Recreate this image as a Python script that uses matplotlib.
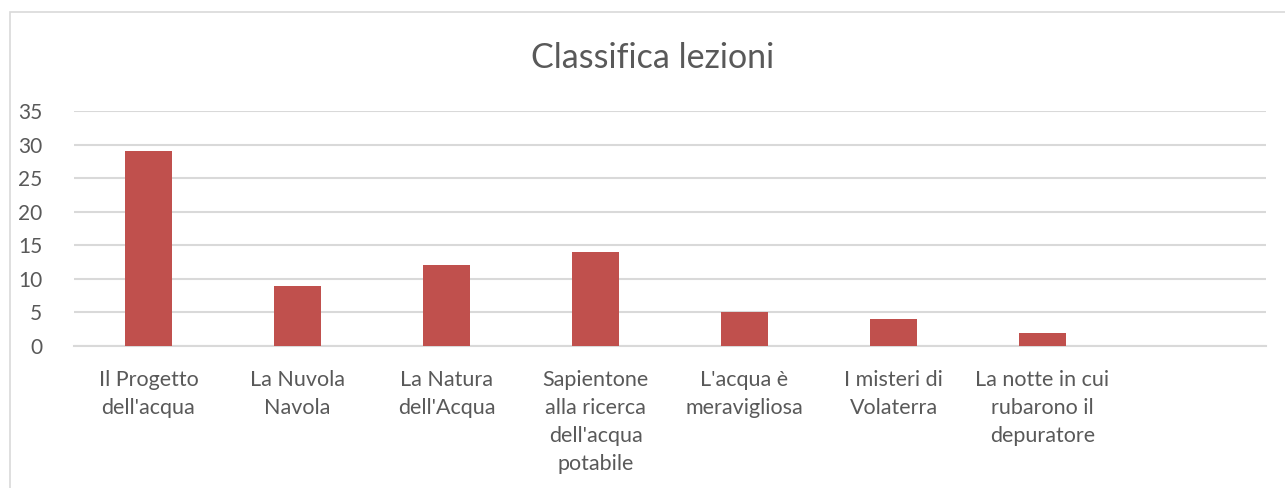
import matplotlib
matplotlib.use("Agg")
import matplotlib.pyplot as plt
from matplotlib.patches import Rectangle

# ===== dati =====
categorie = [
    "Il Progetto\ndell'acqua",
    "La Nuvola\nNavola",
    "La Natura\ndell'Acqua",
    "Sapientone\nalla ricerca\ndell'acqua\npotabile",
    "L'acqua è\nmeravigliosa",
    "I misteri di\nVolaterra",
    "La notte in cui\nrubarono il\ndepuratore",
    "",
]
voti = [29, 9, 12, 14, 5, 4, 2, 0]
y_ticks = [0, 5, 10, 15, 20, 25, 30, 35]

plt.rcParams['font.family'] = ['Lato', 'DejaVu Sans']
testo = "#595959"
griglia = "#D9D9D9"

fig = plt.figure(figsize=(12.85, 4.88), dpi=100)
# bordo del grafico
fig.patches.append(Rectangle((10 / 1285, -0.1), 1.2, 1.1 - 12 / 488,
                             transform=fig.transFigure, fill=False,
                             edgecolor=griglia, linewidth=1.2))

ax = fig.add_axes([74 / 1285, 1 - 346 / 488, (1266 - 74) / 1285, (346 - 111) / 488])
x = range(len(categorie))
ax.bar(x, voti, width=0.315, color="#C0504D", zorder=3)

ax.set_xlim(-0.5, len(categorie) - 0.5)
ax.set_ylim(0, 35)
ax.set_yticks(y_ticks)
ax.set_yticklabels([str(v) for v in y_ticks], color=testo, fontsize=15)
ax.set_xticks(list(x))
ax.set_xticklabels(categorie, color=testo, fontsize=15.5, linespacing=1.5, va="top")
ax.tick_params(length=0)
ax.tick_params(axis="x", pad=17)
ax.tick_params(axis="y", pad=23)
for lbl in ax.get_yticklabels():
    lbl.set_horizontalalignment("right")

ax.grid(axis="y", color=griglia, linewidth=1.5, zorder=0)
for s in ["top", "right", "left"]:
    ax.spines[s].set_visible(False)
ax.spines["bottom"].set_color(griglia)
ax.spines["bottom"].set_linewidth(1.5)

fig.text(653 / 1285, 1 - 58 / 488, "Classifica lezioni", ha="center", va="center",
         fontsize=24.5, color=testo)

fig.savefig("out.png", dpi=100)
